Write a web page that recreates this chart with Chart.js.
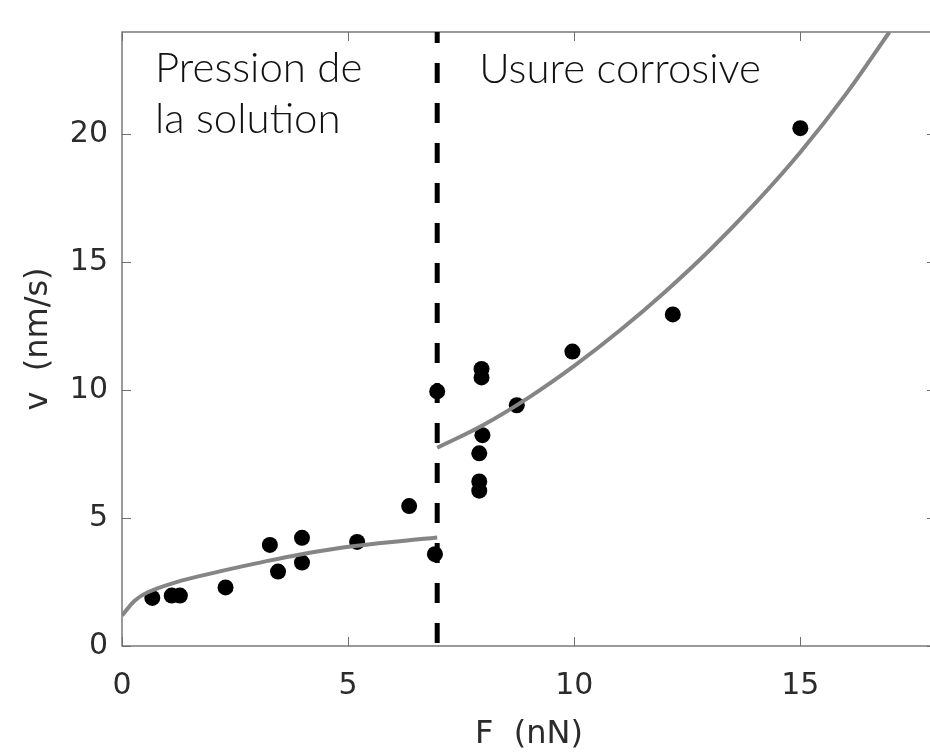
<!DOCTYPE html>
<html>
<head>
<meta charset="utf-8">
<script src="https://cdn.jsdelivr.net/npm/chart.js@4.4.0/dist/chart.umd.min.js"></script>
<style>
  html, body { margin: 0; padding: 0; background: #fff; overflow: hidden; }
  #wrap { width: 950px; height: 755px; }
</style>
</head>
<body>
<div id="wrap"><canvas id="chart" width="950" height="755"></canvas></div>
<script>
// Measured dissolution speed v (nm/s) against applied force F (nN)
const forceLow  = [0.67, 1.10, 1.28, 2.29, 3.27, 3.45, 3.98, 3.98, 5.20, 6.35, 6.92];
const speedLow  = [1.88, 1.97, 1.97, 2.29, 3.95, 2.91, 4.23, 3.26, 4.07, 5.47, 3.59];
const forceHigh = [6.97, 7.90, 7.90, 7.90, 7.97, 7.95, 7.95, 8.73, 9.96, 12.18, 15.00];
const speedHigh = [9.95, 6.07, 6.43, 7.53, 8.24, 10.50, 10.83, 9.41, 11.51, 12.96, 20.24];

// Fitted trend, pressure-solution regime
const fitLowF = [0, 0.28, 0.57, 1.17, 2.05, 2.94, 3.97, 5.15, 6.97];
const fitLowV = [1.19, 1.77, 2.10, 2.48, 2.87, 3.22, 3.59, 3.91, 4.24];
// Fitted trend, corrosive-wear regime
const fitHighF = [6.97, 8, 9, 10, 11, 12, 13, 14, 15, 16, 16.97];
const fitHighV = [7.75, 8.65, 9.72, 10.95, 12.32, 13.83, 15.48, 17.3, 19.3, 21.55, 24.0];

// Regime boundary force
const boundaryForce = 6.97;

// Axes
const xTicks = [0, 5, 10, 15];
const yTicks = [0, 5, 10, 15, 20];
const xRange = [0, 18];
const yRange = [0, 24];
const xTitle = 'F  (nN)';
const yTitle = 'v  (nm/s)';
const leftRegionText = ['Pression de', 'la solution'];
const rightRegionText = ['Usure corrosive'];

const pairs = (xs, ys) => xs.map((x, i) => ({ x: x, y: ys[i] }));

const AXIS_FONT = 'DejaVu Sans';
const TEXT_COLOR = '#2b2b2b';

// Box around the plot with inward tick marks, plus the regime captions
const framePlugin = {
  id: 'frame',
  beforeDatasetsDraw(chart) {
    const { ctx, chartArea: a, scales } = chart;
    const xs = scales.x, ys = scales.y;
    ctx.save();
    ctx.strokeStyle = '#6f6f6f';
    ctx.lineWidth = 1.4;
    ctx.strokeRect(a.left, a.top, a.right - a.left, a.bottom - a.top);
    const tl = 9;
    ctx.beginPath();
    xs.ticks.forEach(t => {
      const px = Math.round(xs.getPixelForValue(t.value)) + 0.5;
      ctx.moveTo(px, a.bottom); ctx.lineTo(px, a.bottom - tl);
      ctx.moveTo(px, a.top);    ctx.lineTo(px, a.top + tl);
    });
    ys.ticks.forEach(t => {
      const py = Math.round(ys.getPixelForValue(t.value)) + 0.5;
      ctx.moveTo(a.left, py);  ctx.lineTo(a.left + tl, py);
      ctx.moveTo(a.right, py); ctx.lineTo(a.right - tl, py);
    });
    ctx.lineWidth = 1;
    ctx.stroke();
    ctx.restore();
  },
  afterDraw(chart) {
    const { ctx, chartArea: a, scales } = chart;
    const bx = scales.x.getPixelForValue(boundaryForce);
    ctx.save();
    ctx.fillStyle = '#111';
    ctx.font = '300 42px "Lato", "Open Sans", sans-serif';
    ctx.textAlign = 'left';
    ctx.textBaseline = 'alphabetic';
    ctx.fillText(leftRegionText[0], a.left + 33, a.top + 50);
    ctx.fillText(leftRegionText[1], a.left + 33, a.top + 101);
    ctx.fillText(rightRegionText[0], bx + 42, a.top + 51);
    ctx.restore();
  }
};

new Chart(document.getElementById('chart'), {
  type: 'scatter',
  data: {
    datasets: [
      {
        type: 'line',
        label: 'fit-low',
        data: pairs(fitLowF, fitLowV),
        borderColor: '#858585',
        borderWidth: 4,
        pointRadius: 0,
        tension: 0.4,
        fill: false,
        order: 1
      },
      {
        type: 'line',
        label: 'fit-high',
        data: pairs(fitHighF, fitHighV),
        borderColor: '#858585',
        borderWidth: 4,
        pointRadius: 0,
        tension: 0.4,
        fill: false,
        order: 1
      },
      {
        label: 'mesures',
        data: pairs(forceLow, speedLow).concat(pairs(forceHigh, speedHigh)),
        backgroundColor: '#000',
        borderWidth: 0,
        pointRadius: 8,
        order: 2
      },
      {
        type: 'line',
        label: 'boundary',
        data: [{ x: boundaryForce, y: yRange[1] }, { x: boundaryForce, y: yRange[0] }],
        borderColor: '#000',
        borderWidth: 5,
        borderDash: [20, 20],
        borderDashOffset: 9,
        borderCapStyle: 'butt',
        pointRadius: 0,
        fill: false,
        order: 3
      }
    ]
  },
  options: {
    responsive: false,
    animation: false,
    devicePixelRatio: 1,
    layout: { padding: { top: 26, right: 14, left: 0, bottom: 0 } },
    plugins: { legend: { display: false }, tooltip: { enabled: false } },
    scales: {
      x: {
        type: 'linear',
        min: xRange[0],
        max: xRange[1],
        afterBuildTicks: s => { s.ticks = xTicks.map(v => ({ value: v })); },
        afterFit: s => { s.height = 109; },
        grid: { display: false, drawTicks: false },
        border: { display: false },
        ticks: { font: { family: AXIS_FONT, size: 30 }, color: TEXT_COLOR, padding: 22, maxRotation: 0 },
        title: { display: true, text: xTitle, font: { family: AXIS_FONT, size: 32 }, color: TEXT_COLOR, padding: { top: 0, bottom: 1 } }
      },
      y: {
        type: 'linear',
        min: yRange[0],
        max: yRange[1],
        afterBuildTicks: s => { s.ticks = yTicks.map(v => ({ value: v })); },
        afterFit: s => { s.width = 122; },
        grid: { display: false, drawTicks: false },
        border: { display: false },
        ticks: { font: { family: AXIS_FONT, size: 30 }, color: TEXT_COLOR, padding: 14 },
        title: { display: true, text: yTitle, font: { family: AXIS_FONT, size: 32 }, color: TEXT_COLOR, padding: { top: 19, bottom: 0 } }
      }
    }
  },
  plugins: [framePlugin]
});
</script>
</body>
</html>
